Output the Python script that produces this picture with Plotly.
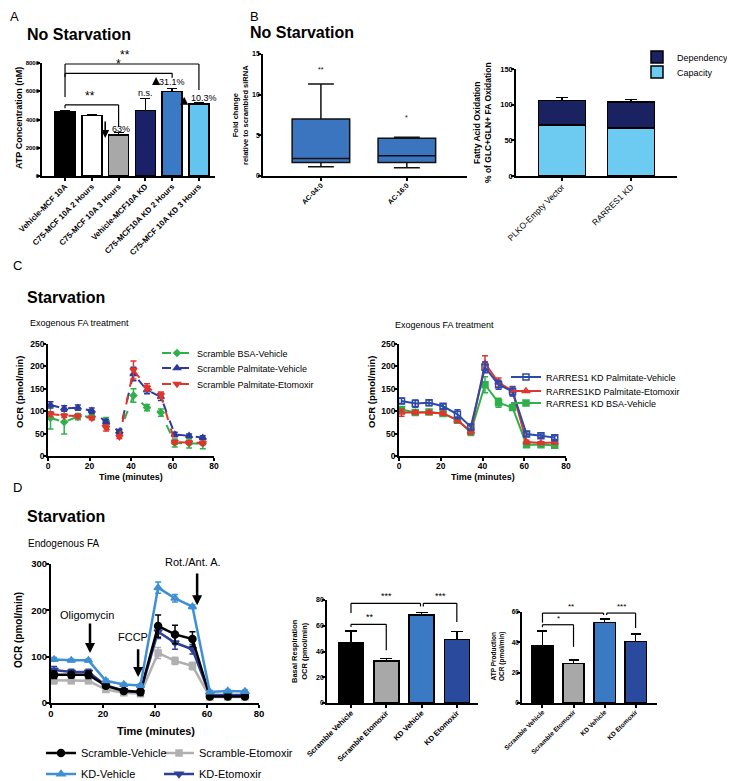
import plotly.graph_objects as go

FONT = "Liberation Sans"
PAGE_W, PAGE_H = 735, 781
OFF = 8                      # default page margin around the figure div
W, H = PAGE_W - OFF, PAGE_H - OFF


def fx(p):
    return (p - OFF) / W


def fy(p):
    return 1 - (p - OFF) / H


# ---------------- data ----------------
# Panel A
A_CATS = ["Vehicle-MCF 10A", "C75-MCF 10A 2 Hours", "C75-MCF 10A 3 Hours",
          "Vehicle-MCF10A KD", "C75-MCF10A KD 2 Hours", "C75-MCF 10A KD 3 Hours"]
A_ATP = [4570, 4270, 2900, 4620, 5970, 5100]
A_ATP_ERR = [80, 60, 190, 880, 240, 90]
A_COLORS = ["#000000", "#ffffff", "#a8a8a8", "#1b2169", "#3a79c3", "#62c4ef"]

# Panel B (box)
BOX_CATS = ["AC-04:0", "AC-16:0"]
BOX_Q1 = [1.65, 1.65]
BOX_MED = [2.15, 2.5]
BOX_Q3 = [7.0, 4.65]
BOX_LO = [1.15, 1.0]
BOX_HI = [11.3, 4.75]
BOX_SIG = ["**", "*"]
BOX_SIG_Y = [13.1, 7.2]

# Panel B (stacked)
FAO_CATS = ["PLKO-Empty Vector", "RARRES1 KD"]
FAO_CAPACITY = [71.3, 67.5]
FAO_CAPACITY_ERR = [2.3, 3.8]
FAO_DEPENDENCY = [34.2, 36.5]
FAO_DEPENDENCY_ERR = [4.2, 3.4]

# Panels C / D time courses
TIME_MIN = [1.2, 7.8, 14.4, 21.1, 28.0, 34.4, 41.2, 47.7, 54.4, 61.1, 68.0, 74.6]

C_SCR_BSA = [85, 76, 88, 88, 78, 52, 135, 108, 97, 29, 28, 28]
C_SCR_BSA_ERR = [25, 27, 7, 5, 8, 6, 15, 7, 8, 9, 10, 12]
C_SCR_PAL = [114, 106, 108, 101, 76, 54, 183, 147, 132, 48, 45, 41]
C_SCR_PAL_ERR = [7, 6, 6, 6, 6, 5, 15, 8, 8, 5, 4, 4]
C_SCR_ETO = [94, 90, 89, 85, 63, 43, 192, 153, 136, 31, 30, 29]
C_SCR_ETO_ERR = [5, 4, 4, 4, 7, 4, 20, 8, 7, 4, 4, 4]

C_KD_PAL = [123, 117, 119, 111, 93, 65, 198, 159, 144, 49, 45, 41]
C_KD_PAL_ERR = [6, 8, 6, 5, 10, 6, 12, 10, 10, 5, 4, 4]
C_KD_ETO = [97, 97, 97, 95, 80, 54, 207, 164, 145, 31, 29, 30]
C_KD_ETO_ERR = [8, 4, 4, 4, 5, 5, 17, 10, 10, 4, 3, 3]
C_KD_BSA = [104, 97, 98, 95, 80, 54, 159, 119, 108, 25, 25, 24]
C_KD_BSA_ERR = [6, 4, 4, 4, 5, 8, 18, 10, 6, 3, 3, 3]

D_SCR_VEH = [61, 61, 61, 37, 26, 24, 166, 148, 138, 14, 14, 14]
D_SCR_VEH_ERR = [8, 7, 8, 4, 4, 8, 24, 20, 16, 3, 3, 3]
D_SCR_ETO = [49, 48, 48, 29, 22, 20, 108, 91, 80, 13, 13, 13]
D_SCR_ETO_ERR = [8, 6, 6, 4, 4, 4, 12, 8, 8, 2, 2, 2]
D_KD_VEH = [94, 92, 92, 48, 40, 38, 249, 226, 208, 24, 26, 25]
D_KD_VEH_ERR = [4, 3, 3, 3, 3, 3, 12, 8, 4, 3, 3, 3]
D_KD_ETO = [71, 67, 67, 38, 27, 24, 154, 130, 116, 17, 17, 17]
D_KD_ETO_ERR = [8, 6, 6, 4, 4, 4, 15, 14, 10, 2, 2, 2]

D_CATS = ["Scramble Vehicle", "Scramble Etomoxir", "KD Vehicle", "KD Etomoxir"]
D_COLORS = ["#000000", "#a8a8a8", "#3a79c3", "#2a4a9e"]
D_BASAL = [47, 32.5, 68.5, 49.5]
D_BASAL_ERR = [9, 2.2, 1.8, 6]
D_ATP = [38, 26, 53, 40.5]
D_ATP_ERR = [9.5, 2.5, 2.5, 5]

# ---------------- figure ----------------
fig = go.Figure()

# A
fig.add_trace(go.Bar(
    x=A_CATS, y=A_ATP, width=0.75,
    marker=dict(color=A_COLORS, line=dict(color="black", width=1.5)),
    error_y=dict(type="data", array=A_ATP_ERR, arrayminus=[0] * len(A_ATP), symmetric=False,
                 color="black", thickness=1.5, width=5),
    xaxis="x", yaxis="y", showlegend=False))

# B box
fig.add_trace(go.Box(
    x=BOX_CATS, q1=BOX_Q1, median=BOX_MED, q3=BOX_Q3, lowerfence=BOX_LO, upperfence=BOX_HI,
    fillcolor="#3b74bf", line=dict(color="#111111", width=1.5), width=0.67, whiskerwidth=0.45,
    boxpoints=False, xaxis="x2", yaxis="y2", showlegend=False))

# B stacked
fig.add_trace(go.Bar(
    x=FAO_CATS, y=FAO_CAPACITY, name="Capacity", width=0.68,
    marker=dict(color="#6dcbf2", line=dict(color="black", width=1.5)),
    error_y=dict(type="data", array=FAO_CAPACITY_ERR, arrayminus=[0, 0], symmetric=False,
                 color="black", thickness=1.2, width=6),
    xaxis="x3", yaxis="y3", legend="legend2"))
fig.add_trace(go.Bar(
    x=FAO_CATS, y=FAO_DEPENDENCY, name="Dependency", width=0.68,
    marker=dict(color="#1b2262", line=dict(color="black", width=1.5)),
    error_y=dict(type="data", array=FAO_DEPENDENCY_ERR, arrayminus=[0, 0], symmetric=False,
                 color="black", thickness=1.2, width=6),
    xaxis="x3", yaxis="y3", legend="legend"))


def line_trace(y, err, name, color, symbol, dash, xa, ya, leg, msize=6, lw=2):
    return go.Scatter(
        x=TIME_MIN, y=y, name=name, mode="lines+markers",
        line=dict(color=color, width=lw, dash=dash),
        marker=dict(color=color, symbol=symbol, size=msize, line=dict(color=color, width=1.5)),
        error_y=dict(type="data", array=err, color=color, thickness=1.5, width=3),
        xaxis=xa, yaxis=ya, legend=leg)


# C left
fig.add_trace(line_trace(C_SCR_BSA, C_SCR_BSA_ERR, "Scramble BSA-Vehicle", "#2eb14b", "diamond", "dash", "x4", "y4", "legend3", 5))
fig.add_trace(line_trace(C_SCR_PAL, C_SCR_PAL_ERR, "Scramble Palmitate-Vehicle", "#2d3a9b", "triangle-up", "dash", "x4", "y4", "legend4"))
fig.add_trace(line_trace(C_SCR_ETO, C_SCR_ETO_ERR, "Scramble Palmitate-Etomoxir", "#e0352d", "triangle-down", "dash", "x4", "y4", "legend5"))

# C right
fig.add_trace(line_trace(C_KD_BSA, C_KD_BSA_ERR, "RARRES1 KD BSA-Vehicle", "#2eb14b", "square", "solid", "x5", "y5", "legend8"))
fig.add_trace(line_trace(C_KD_ETO, C_KD_ETO_ERR, "RARRES1KD Palmitate-Etomoxir", "#e0352d", "triangle-up-open", "solid", "x5", "y5", "legend7"))
fig.add_trace(line_trace(C_KD_PAL, C_KD_PAL_ERR, "RARRES1 KD Palmitate-Vehicle", "#2d4aa8", "square-open", "solid", "x5", "y5", "legend6"))

# D left
fig.add_trace(line_trace(D_SCR_ETO, D_SCR_ETO_ERR, "Scramble-Etomoxir", "#b0b0b0", "square", "solid", "x6", "y6", "legend10", 6, 2.5))
fig.add_trace(line_trace(D_KD_ETO, D_KD_ETO_ERR, "KD-Etomoxir", "#2e3f99", "triangle-down", "solid", "x6", "y6", "legend12", 7, 2.5))
fig.add_trace(line_trace(D_SCR_VEH, D_SCR_VEH_ERR, "Scramble-Vehicle", "#000000", "circle", "solid", "x6", "y6", "legend9", 7, 2.5))
fig.add_trace(line_trace(D_KD_VEH, D_KD_VEH_ERR, "KD-Vehicle", "#3f8fd6", "triangle-up", "solid", "x6", "y6", "legend11", 7, 2.5))

# D bars
fig.add_trace(go.Bar(
    x=D_CATS, y=D_BASAL, width=0.71,
    marker=dict(color=D_COLORS, line=dict(color="black", width=1.5)),
    error_y=dict(type="data", array=D_BASAL_ERR, arrayminus=[0] * 4, symmetric=False,
                 color="black", thickness=1.5, width=6),
    xaxis="x7", yaxis="y7", showlegend=False))
fig.add_trace(go.Bar(
    x=D_CATS, y=D_ATP, width=0.69,
    marker=dict(color=D_COLORS, line=dict(color="black", width=1.5)),
    error_y=dict(type="data", array=D_ATP_ERR, arrayminus=[0] * 4, symmetric=False,
                 color="black", thickness=1.5, width=5),
    xaxis="x8", yaxis="y8", showlegend=False))


# ---------------- axes ----------------
def tf(size, bold=True):
    return dict(family=FONT, size=size, color="black", weight="bold" if bold else "normal")


def ax(size, bold=True, lw=1.5, standoff=-3):
    return dict(showline=True, linecolor="black", linewidth=lw, ticks="outside", ticklen=3,
                tickwidth=lw, tickcolor="black", showgrid=False, zeroline=False,
                tickfont=tf(size, bold), fixedrange=True, automargin=False,
                ticklabelstandoff=standoff)


layout = dict(
    width=W, height=H, margin=dict(l=0, r=0, t=0, b=0, pad=0, autoexpand=False),
    paper_bgcolor="white", plot_bgcolor="white", barmode="stack",
    font=dict(family=FONT, color="black"), showlegend=True,
)

layout["xaxis"] = dict(ax(8, standoff=-2), domain=[fx(42), fx(215)], anchor="y", type="category",
                       range=[-0.86, 5.6], tickangle=-45)
layout["yaxis"] = dict(ax(6), domain=[fy(176), fy(63)], anchor="x", range=[0, 8000], dtick=2000,
                       tickformat="d")

layout["xaxis2"] = dict(ax(7, standoff=-2), domain=[fx(263), fx(467)], anchor="y2", type="category",
                        range=[-0.674, 1.70], tickangle=-45)
layout["yaxis2"] = dict(ax(7), domain=[fy(176), fy(54)], anchor="x2", range=[0, 15], dtick=5)

layout["xaxis3"] = dict(ax(8.5, False, standoff=-2), domain=[fx(516), fx(677)], anchor="y3", type="category",
                        range=[-0.667, 1.667], tickangle=-45)
layout["yaxis3"] = dict(ax(7.5), domain=[fy(176), fy(69)], anchor="x3", range=[0, 150], dtick=50)

for i, (x0, x1) in zip([4, 5], [(48, 214), (399, 566)]):
    layout[f"xaxis{i}"] = dict(ax(8.5, standoff=-2), domain=[fx(x0), fx(x1)], anchor=f"y{i}",
                               range=[0, 80], dtick=20)
    layout[f"yaxis{i}"] = dict(ax(8.5), domain=[fy(456), fy(344)], anchor=f"x{i}", range=[0, 250], dtick=50)

layout["xaxis6"] = dict(ax(9.5, True, 2, -2), domain=[fx(51), fx(259)], anchor="y6", range=[0, 80], dtick=20)
layout["yaxis6"] = dict(ax(9.5, True, 2), domain=[fy(703), fy(564)], anchor="x6", range=[0, 300], dtick=100)

layout["xaxis7"] = dict(ax(7.5, standoff=-2), domain=[fx(327), fx(478)], anchor="y7", type="category",
                        range=[-0.68, 3.6], tickangle=-45)
layout["yaxis7"] = dict(ax(7), domain=[fy(703), fy(600)], anchor="x7", range=[0, 80], dtick=20)

layout["xaxis8"] = dict(ax(6.5, standoff=-2), domain=[fx(522), fx(657)], anchor="y8", type="category",
                        range=[-0.66, 3.69], tickangle=-45)
layout["yaxis8"] = dict(ax(6.5), domain=[fy(703), fy(612)], anchor="x8", range=[0, 60], dtick=20)


# ---------------- legends ----------------
def leg(text_x, yc, size):
    return dict(x=fx(text_x - 40), y=fy(yc), xanchor="left", yanchor="middle",
                bgcolor="rgba(0,0,0,0)", borderwidth=0, font=dict(family=FONT, size=size, color="black"))


layout["legend"] = leg(677, 57, 9)
layout["legend2"] = leg(677, 72, 9)
layout["legend3"] = leg(197, 353, 9)
layout["legend4"] = leg(197, 368, 9)
layout["legend5"] = leg(197, 384, 9)
layout["legend6"] = leg(546, 377, 9)
layout["legend7"] = leg(546, 391, 9)
layout["legend8"] = leg(546, 403, 9)
layout["legend9"] = leg(81, 753, 11)
layout["legend10"] = leg(199, 753, 11)
layout["legend11"] = leg(81, 774, 11)
layout["legend12"] = leg(199, 774, 11)

# ---------------- annotations & shapes ----------------
ann = []
shapes = []


def paper_text(text, x, y, size, bold=False, xanchor="left", angle=0):
    ann.append(dict(text=text, x=fx(x), y=fy(y), xref="paper", yref="paper", showarrow=False,
                    xanchor=xanchor, yanchor="middle", textangle=angle, font=tf(size, bold)))


paper_text("A", 8, 16.5, 13)
paper_text("B", 248, 16.5, 13)
paper_text("C", 11, 265, 13)
paper_text("D", 11, 488, 13)
paper_text("No Starvation", 25, 34, 16, True)
paper_text("No Starvation", 248, 33, 16, True)
paper_text("Starvation", 25, 297, 16, True)
paper_text("Starvation", 25, 516, 16, True)
paper_text("Exogenous FA treatment", 28, 323, 9)
paper_text("Exogenous FA treatment", 393, 325, 9)
paper_text("Endogenous FA", 26, 543, 10)
paper_text("Rot./Ant. A.", 193, 562, 11, False, "center")

# axis titles
paper_text("ATP Concentration (nM)", 19, 118, 9, True, "center", -90)
paper_text("Fold change<br>relative to scrambled siRNA", 240, 115, 7.5, True, "center", -90)
paper_text("Fatty Acid Oxidation<br>% of GLC+GLN+ FA Oxidation", 483, 122, 8.5, True, "center", -90)
paper_text("OCR (pmol/min)", 20, 392, 9.5, True, "center", -90)
paper_text("OCR (pmol/min)", 372, 392, 9.5, True, "center", -90)
paper_text("Time (minutes)", 131, 477, 9, True, "center")
paper_text("Time (minutes)", 483, 477, 9, True, "center")
paper_text("OCR (pmol/min)", 18, 630, 10, True, "center", -90)
paper_text("Time (minutes)", 156, 731, 11, True, "center")
paper_text("Basal Respiration<br>OCR (pmol/min)", 299, 651, 7.5, True, "center", -90)
paper_text("ATP Production<br>OCR (pmol/min)", 498, 657, 6.5, True, "center", -90)


def data_text(text, x, y, xa, ya, size, yanchor="bottom", bold=False):
    ann.append(dict(text=text, x=x, y=y, xref=xa, yref=ya, showarrow=False, xanchor="center",
                    yanchor=yanchor, font=tf(size, bold)))


def bracket(xa, ya, x0, x1, y, yl, yr, lw=1.2):
    for (a, b, c, d) in [(x0, y, x1, y), (x0, y, x0, yl), (x1, y, x1, yr)]:
        shapes.append(dict(type="line", xref=xa, yref=ya, x0=a, y0=b, x1=c, y1=d,
                           line=dict(color="black", width=lw)))


def arrow(xa, ya, x, y_tip, y_tail, width, size):
    ann.append(dict(text="", x=x, y=y_tip, ax=x, ay=y_tail, xref=xa, yref=ya, axref=xa, ayref=ya,
                    showarrow=True, arrowhead=2, arrowsize=size, arrowwidth=width, arrowcolor="black"))


# Panel A significance
bracket("x", "y", 0, 5, 7930, 5600, 6090)
bracket("x", "y", 0, 4, 7270, 7000, 6960)
bracket("x", "y", 0, 2, 5030, 4790, 3490)
data_text("**", 2.25, 7930, "x", "y", 12)
data_text("*", 2.0, 7270, "x", "y", 12)
data_text("**", 0.95, 5030, "x", "y", 12)
data_text("n.s.", 3.0, 5900, "x", "y", 9, "middle")
data_text("63%", 2.08, 3300, "x", "y", 9, "middle")
data_text("31.1%", 4.0, 6650, "x", "y", 9, "middle")
data_text("10.3%", 5.18, 5520, "x", "y", 9, "middle")
arrow("x", "y", 1.5, 2690, 3965, 1.6, 1.0)
arrow("x", "y", 3.4, 7009, 6372, 1.6, 1.0)
arrow("x", "y", 4.45, 5614, 5027, 1.6, 1.0)

# Panel B box significance
for c, s, yv in zip(BOX_CATS, BOX_SIG, BOX_SIG_Y):
    data_text(s, c, yv, "x2", "y2", 7, "middle")

# Panel D left arrows
data_text("Oligomycin", 13.8, 190, "x6", "y6", 11, "middle")
data_text("FCCP", 31.5, 142, "x6", "y6", 11, "middle")
arrow("x6", "y6", 15.0, 108, 175, 2.5, 0.8)
arrow("x6", "y6", 33.5, 56, 119, 2.5, 0.8)
arrow("x6", "y6", 56.2, 211, 283, 2.5, 0.8)

# Panel D middle brackets
bracket("x7", "y7", 0, 1.97, 77.4, 70, 75)
bracket("x7", "y7", 2.05, 3.0, 77.4, 75, 63)
bracket("x7", "y7", 0, 1.0, 61.1, 59, 41)
data_text("***", 1.02, 77.4, "x7", "y7", 9)
data_text("***", 2.55, 77.4, "x7", "y7", 9)
data_text("**", 0.55, 61.1, "x7", "y7", 9)

# Panel D right brackets
bracket("x8", "y8", 0, 1.97, 59.3, 53, 58)
bracket("x8", "y8", 2.07, 3.0, 59.3, 58, 49.4)
bracket("x8", "y8", 0, 1.0, 51.6, 50, 37)
data_text("**", 0.92, 59.3, "x8", "y8", 8)
data_text("***", 2.55, 59.3, "x8", "y8", 8)
data_text("*", 0.53, 51.6, "x8", "y8", 8)

layout["annotations"] = ann
layout["shapes"] = shapes

fig.update_layout(**layout)
fig.write_html("out.html")
